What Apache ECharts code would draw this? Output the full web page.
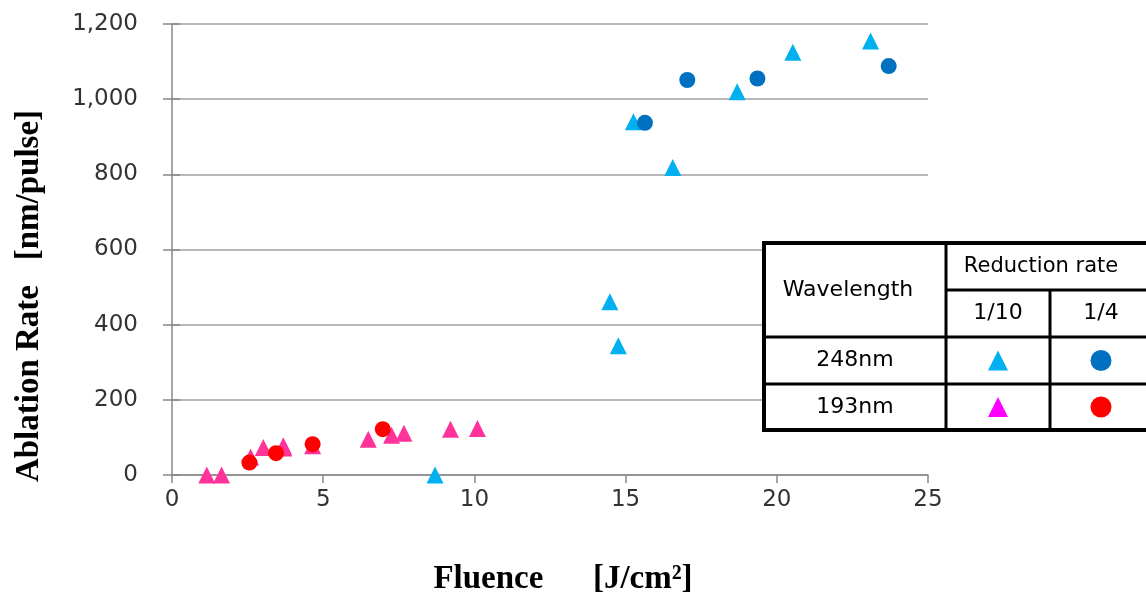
<!DOCTYPE html>
<html>
<head>
<meta charset="utf-8">
<script src="https://cdn.jsdelivr.net/npm/echarts/dist/echarts.min.js"></script>
<style>
  html, body { margin: 0; padding: 0; background: #fff; }
  #chart { width: 1146px; height: 599px; }
</style>
</head>
<body>
<div id="chart"></div>
<script>
// Axis ticks
var xTicks = [0, 5, 10, 15, 20, 25];
var yTicks = [0, 200, 400, 600, 800, 1000, 1200];

// 248nm, reduction rate 1/10 (triangles)
var fluence248_10 = [8.70, 14.48, 14.76, 15.26, 16.56, 18.69, 20.53, 23.10];
var rate248_10 = [0, 461, 344, 940, 818, 1020, 1125, 1155];

// 248nm, reduction rate 1/4 (circles)
var fluence248_4 = [15.64, 17.04, 19.36, 23.70];
var rate248_4 = [937, 1051, 1055, 1088];

// 193nm, reduction rate 1/10 (triangles)
var fluence193_10 = [1.15, 1.64, 2.60, 3.02, 3.68, 3.70, 4.65, 6.49, 7.26, 7.67, 9.21, 10.10];
var rate193_10 = [0, 0, 48, 73, 78, 72, 78, 95, 106, 111, 122, 124];

// 193nm, reduction rate 1/4 (circles)
var fluence193_4 = [2.56, 3.44, 4.65, 6.97];
var rate193_4 = [33, 58, 82, 122];

var pairs = function (xs, ys) {
    return xs.map(function (x, i) { return [x, ys[i]]; });
};

var chart = echarts.init(document.getElementById('chart'));

var labelFont = '"DejaVu Sans", sans-serif';
var titleFont = '"Liberation Serif", "Times New Roman", serif';

// Legend table (drawn as graphic)
var tL = 764, tT = 243, tR = 1160, tB = 430;
var c1 = 946, c2 = 1050;
var r1 = 290, r2 = 337, r3 = 384;
var lineStyle = { stroke: '#000', lineWidth: 3 };

var tri = function (cx, cy, s, color) {
    return {
        type: 'polygon', z: 102,
        shape: { points: [[cx, cy - s / 2], [cx + s / 2, cy + s / 2], [cx - s / 2, cy + s / 2]] },
        style: { fill: color }
    };
};
var dot = function (cx, cy, r, color) {
    return { type: 'circle', z: 102, shape: { cx: cx, cy: cy, r: r }, style: { fill: color } };
};
var cellText = function (text, cx, cy, size) {
    return {
        type: 'text', x: cx, y: cy, z: 102,
        style: {
            text: text, fill: '#000', font: (size || 22) + 'px ' + labelFont,
            align: 'center', verticalAlign: 'middle'
        }
    };
};
var hline = function (x1, x2, y) {
    return { type: 'line', z: 102, shape: { x1: x1, y1: y, x2: x2, y2: y }, style: lineStyle };
};
var vline = function (x, y1, y2) {
    return { type: 'line', z: 102, shape: { x1: x, y1: y1, x2: x, y2: y2 }, style: lineStyle };
};

chart.setOption({
    animation: false,
    backgroundColor: '#fff',
    grid: { left: 172, right: 218, top: 24, bottom: 124, containLabel: false, outerBoundsMode: 'none' },
    xAxis: {
        type: 'value',
        min: xTicks[0],
        max: xTicks[xTicks.length - 1],
        interval: 5,
        axisLine: { onZero: false, lineStyle: { color: '#888', width: 1.5 } },
        axisTick: { show: true, length: 8, lineStyle: { color: '#888', width: 1.5 } },
        axisLabel: { fontFamily: labelFont, fontSize: 23, color: '#333', margin: 14 },
        splitLine: { show: false }
    },
    yAxis: [{
        type: 'value',
        min: yTicks[0],
        max: yTicks[yTicks.length - 1],
        interval: 200,
        axisLine: { show: true, lineStyle: { color: '#888', width: 1.5 } },
        axisTick: { show: true, length: 9, lineStyle: { color: '#888', width: 1.5 } },
        axisLabel: {
            fontFamily: labelFont, fontSize: 23, color: '#333', margin: 34,
            formatter: function (v) { return v.toLocaleString('en-US'); }
        },
        splitLine: { show: true, lineStyle: { color: '#a0a0a0', width: 1.5 } }
    }, {
        type: 'value',
        min: yTicks[0],
        max: yTicks[yTicks.length - 1],
        interval: 200,
        position: 'left',
        axisLine: { show: false },
        axisTick: { show: true, inside: true, length: 8, lineStyle: { color: '#888', width: 1.5 } },
        axisLabel: { show: false },
        splitLine: { show: false }
    }],
    series: [{
        name: '248nm 1/10',
        type: 'scatter',
        symbol: 'triangle',
        symbolSize: 17,
        itemStyle: { color: '#00b0f0', opacity: 1 },
        data: pairs(fluence248_10, rate248_10)
    }, {
        name: '193nm 1/10',
        type: 'scatter',
        symbol: 'triangle',
        symbolSize: 17,
        itemStyle: { color: '#ff3399', opacity: 1 },
        data: pairs(fluence193_10, rate193_10)
    }, {
        name: '248nm 1/4',
        type: 'scatter',
        symbol: 'circle',
        symbolSize: 16,
        itemStyle: { color: '#0070c0', opacity: 1 },
        data: pairs(fluence248_4, rate248_4)
    }, {
        name: '193nm 1/4',
        type: 'scatter',
        symbol: 'circle',
        symbolSize: 16,
        itemStyle: { color: '#ff0000', opacity: 1 },
        data: pairs(fluence193_4, rate193_4)
    }],
    graphic: [
        // Axis titles
        {
            type: 'text', x: 563, y: 579,
            style: {
                text: 'Fluence      [J/cm\u00b2]', fill: '#000',
                font: 'bold 33px ' + titleFont, align: 'center', verticalAlign: 'middle'
            }
        },
        {
            type: 'text', x: 29, y: 296, rotation: Math.PI / 2,
            style: {
                text: 'Ablation Rate   [nm/pulse]', fill: '#000',
                font: 'bold 33px ' + titleFont, align: 'center', verticalAlign: 'middle'
            }
        },
        // Legend table
        { type: 'rect', z: 100, shape: { x: tL, y: tT, width: tR - tL, height: tB - tT },
          style: { fill: '#fff', stroke: '#000', lineWidth: 4 } },
        vline(c1, tT, tB),
        vline(c2, r1, tB),
        hline(c1, tR, r1),
        hline(tL, tR, r2),
        hline(tL, tR, r3),
        cellText('Wavelength', 848, (tT + r2) / 2),
        cellText('Reduction rate', 1041, (tT + r1) / 2, 21),
        cellText('1/10', (c1 + c2) / 2, (r1 + r2) / 2),
        cellText('1/4', 1101, (r1 + r2) / 2),
        cellText('248nm', (tL + c1) / 2, (r2 + r3) / 2),
        cellText('193nm', (tL + c1) / 2, (r3 + tB) / 2),
        tri((c1 + c2) / 2, (r2 + r3) / 2, 20, '#00b0f0'),
        dot(1101, (r2 + r3) / 2, 10.5, '#0070c0'),
        tri((c1 + c2) / 2, (r3 + tB) / 2, 20, '#ff00ff'),
        dot(1101, (r3 + tB) / 2, 10.5, '#ff0000')
    ]
});
</script>
</body>
</html>
